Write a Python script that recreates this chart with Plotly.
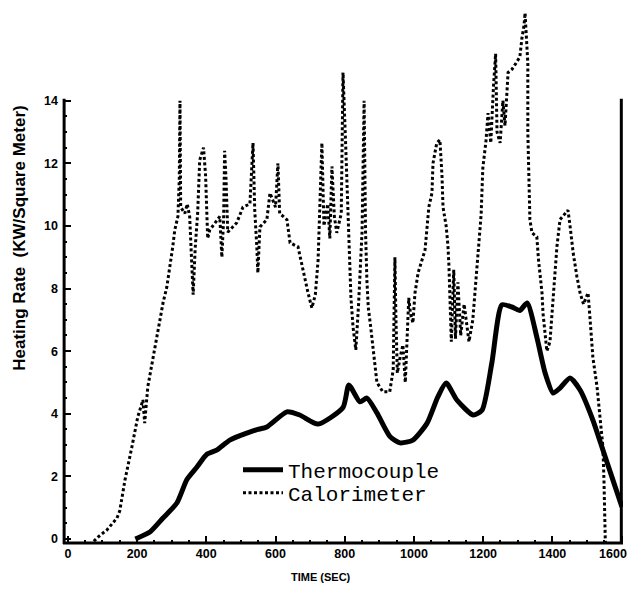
import plotly.graph_objects as go

# Thermocouple (solid) - time (s), heating rate (kW/m^2)
thermo_t = [195, 237, 275, 315, 344, 373, 401, 430, 468, 517, 549, 575, 633, 670, 723,
            795, 812, 844, 864, 893, 931, 960, 997, 1038, 1069, 1093, 1124, 1171, 1197,
            1225, 1254, 1283, 1306, 1327, 1355, 1379, 1402, 1422, 1451, 1480, 1517, 1546,
            1575, 1601]
thermo_v = [0.0, 0.22, 0.67, 1.15, 1.9, 2.3, 2.7, 2.84, 3.16, 3.38, 3.5, 3.58, 4.06, 3.96, 3.67,
            4.2, 4.92, 4.38, 4.5, 4.03, 3.27, 3.07, 3.16, 3.7, 4.54, 4.98, 4.44, 3.96, 4.12,
            5.62, 7.48, 7.41, 7.3, 7.54, 6.45, 5.3, 4.66, 4.82, 5.14, 4.76, 3.8, 2.84,
            1.88, 1.02]

# Calorimeter (dotted)
calor_t = [64, 87, 113, 142, 150, 165, 185, 202, 217, 222, 231, 243, 257, 266, 275, 286, 295,
           303, 309, 318, 322, 324, 326, 338, 345, 352, 358, 362, 368, 375, 381, 392, 398, 404,
           410, 425, 439, 445, 450, 453, 457, 462, 468, 488, 506, 526, 535, 540, 546, 549, 555,
           575, 584, 600, 607, 612, 633, 642, 665, 679, 694, 705, 715, 723, 728, 734, 740, 751,
           757, 763, 770, 777, 790, 795, 803, 812, 815, 818, 824, 832, 840, 850, 856, 858, 860,
           864, 868, 875, 887, 893, 910, 930, 940, 945, 948, 952, 960, 968, 975, 980, 985, 990,
           997, 1003, 1012, 1023, 1032, 1038, 1043, 1052, 1055, 1066, 1075, 1081, 1084, 1093,
           1098, 1101, 1108, 1115, 1120, 1127, 1135, 1145, 1159, 1170, 1180, 1185, 1194, 1199,
           1208, 1214, 1222, 1230, 1236, 1240, 1249, 1257, 1263, 1272, 1283, 1295, 1306, 1312,
           1318, 1321, 1326, 1329, 1329, 1331, 1332, 1335, 1341, 1355, 1360, 1370, 1373, 1384,
           1393, 1402, 1413, 1422, 1436, 1445, 1451, 1460, 1471, 1480, 1490, 1503, 1509, 1517,
           1529, 1538, 1546, 1549, 1552, 1553]
calor_v = [-0.2, 0.06, 0.29, 0.67, 0.9, 1.88, 2.94, 3.9, 4.44, 3.7, 4.86, 5.62, 6.45, 7.1, 7.54,
           8.05, 8.69, 9.33, 9.87, 10.3, 11.5, 14.0, 10.6, 10.4, 10.7, 10.3, 8.8, 7.8, 9.3, 10.4,
           12.1, 12.5, 11.6, 9.6, 9.87, 10.1, 10.3, 9.0, 10.2, 12.4, 11.5, 9.8, 9.87, 10.1, 10.6,
           10.7, 12.65, 10.5, 9.33, 8.5, 9.97, 10.2, 11.05, 10.6, 12.0, 10.4, 10.2, 9.46, 9.33,
           8.6, 7.86, 7.38, 7.8, 8.9, 10.5, 12.65, 10.0, 10.7, 9.6, 11.9, 10.3, 9.78, 10.4, 14.9,
           12.5, 9.97, 8.9, 7.7, 6.77, 6.04, 7.5, 9.8, 14.0, 12.0, 9.87, 8.27, 7.4, 6.77, 5.7,
           5.0, 4.7, 4.7, 5.4, 9.0, 7.0, 5.3, 5.8, 6.2, 5.0, 6.7, 7.7, 7.2, 6.9, 7.86, 8.5, 8.9,
           9.23, 9.97, 10.6, 11.05, 12.0, 12.65, 12.75, 11.6, 10.6, 10.0, 9.4, 8.75, 6.3, 8.6,
           6.4, 8.2, 6.5, 7.5, 6.3, 7.0, 8.3, 9.07, 10.35, 11.85, 12.7, 13.6, 12.65, 14.5, 15.5,
           13.0, 12.65, 14.0, 13.2, 14.9, 15.0, 15.2, 15.4, 16.0, 16.4, 16.8, 15.5, 15.2, 13.0,
           12.0, 10.9, 10.2, 9.78, 9.65, 8.9, 7.86, 7.2, 6.0, 6.3, 7.57, 9.33, 10.2, 10.4, 10.5,
           10.0, 9.14, 8.37, 7.86, 7.5, 7.86, 7.0, 5.8, 4.86, 3.8, 2.94, 1.88, 0.83, -0.13]

x_ticks = [0, 200, 400, 600, 800, 1000, 1200, 1400, 1600]
x_ticktext = ["0", "200", "400", "600", "800", "1000", "1200", "1400",
              "1600&nbsp;&nbsp;&nbsp;&nbsp;&nbsp;"]
x_minor = [v for v in range(50, 1600, 50) if v % 200 != 0]
y_ticks = [0, 2, 4, 6, 8, 10, 12, 14]
y_minor = [v / 2 for v in range(1, 28) if v % 4 != 0]

x_range = [-14, 1604]
y_range = [-0.16, 16.96]
y_axis_top = 14.06

fig = go.Figure()
fig.add_trace(go.Scatter(
    x=thermo_t, y=thermo_v, mode="lines", name="Thermocouple", legend="legend",
    line=dict(color="black", width=5, shape="spline", smoothing=0.6),
))
fig.add_trace(go.Scatter(
    x=calor_t, y=calor_v, mode="lines", name="Calorimeter", legend="legend2",
    line=dict(color="black", width=3, dash="3px,2.5px"),
))

tickfont = dict(family="Liberation Sans", size=12.5, color="black", weight="bold")

fig.update_xaxes(
    range=x_range, showgrid=False, zeroline=False, showline=False,
    tickmode="array", tickvals=x_ticks, ticktext=x_ticktext,
    ticks="inside", ticklen=8, tickwidth=2, tickcolor="black", tickfont=tickfont,
    ticklabeloverflow="allow",
    minor=dict(tickmode="array", tickvals=x_minor, ticks="inside", ticklen=4,
               tickwidth=2, tickcolor="black"),
)
fig.update_yaxes(
    range=y_range, showgrid=False, zeroline=False, showline=False,
    tickmode="array", tickvals=y_ticks, ticktext=[str(v) for v in y_ticks],
    ticks="inside", ticklen=8, tickwidth=2, tickcolor="black", tickfont=tickfont,
    ticklabelstandoff=4, ticklabeloverflow="allow",
    minor=dict(tickmode="array", tickvals=y_minor, ticks="inside", ticklen=4,
               tickwidth=2, tickcolor="black"),
)

# axis frame: left, bottom, right (no top)
frame = dict(color="black", width=3)
fig.add_shape(type="line", xref="paper", yref="y", x0=0.002, x1=0.002,
              y0=y_range[0], y1=y_axis_top, line=frame)
fig.add_shape(type="line", xref="paper", yref="y", x0=0.997, x1=0.997,
              y0=y_range[0], y1=y_axis_top, line=frame)
fig.add_shape(type="line", xref="paper", yref="paper", x0=0, x1=1, y0=0.002, y1=0.002,
              line=frame)

fig.add_annotation(
    text="Heating Rate  (KW/Square Meter)", xref="paper", yref="y",
    x=-0.078, y=9.6, textangle=-90, showarrow=False, xanchor="center", yanchor="middle",
    font=dict(family="Liberation Sans", size=17, color="black", weight="bold"),
)
fig.add_annotation(
    text="TIME (SEC)", xref="paper", yref="paper", x=0.46, y=-0.062,
    showarrow=False, xanchor="center", yanchor="middle",
    font=dict(family="Liberation Sans", size=11, color="black", weight="bold"),
)

legend_font = dict(family="Liberation Mono", size=21, color="black")
fig.update_layout(
    width=636, height=575,
    margin=dict(l=55, r=21, t=0, b=39),
    plot_bgcolor="white", paper_bgcolor="white",
    showlegend=True,
    legend=dict(x=0.3125, y=0.138, xanchor="left", yanchor="middle",
                bgcolor="rgba(0,0,0,0)", borderwidth=0, font=legend_font, itemwidth=40),
    legend2=dict(x=0.3125, y=0.095, xanchor="left", yanchor="middle",
                 bgcolor="rgba(0,0,0,0)", borderwidth=0, font=legend_font, itemwidth=40),
)

fig.write_html("out.html")
